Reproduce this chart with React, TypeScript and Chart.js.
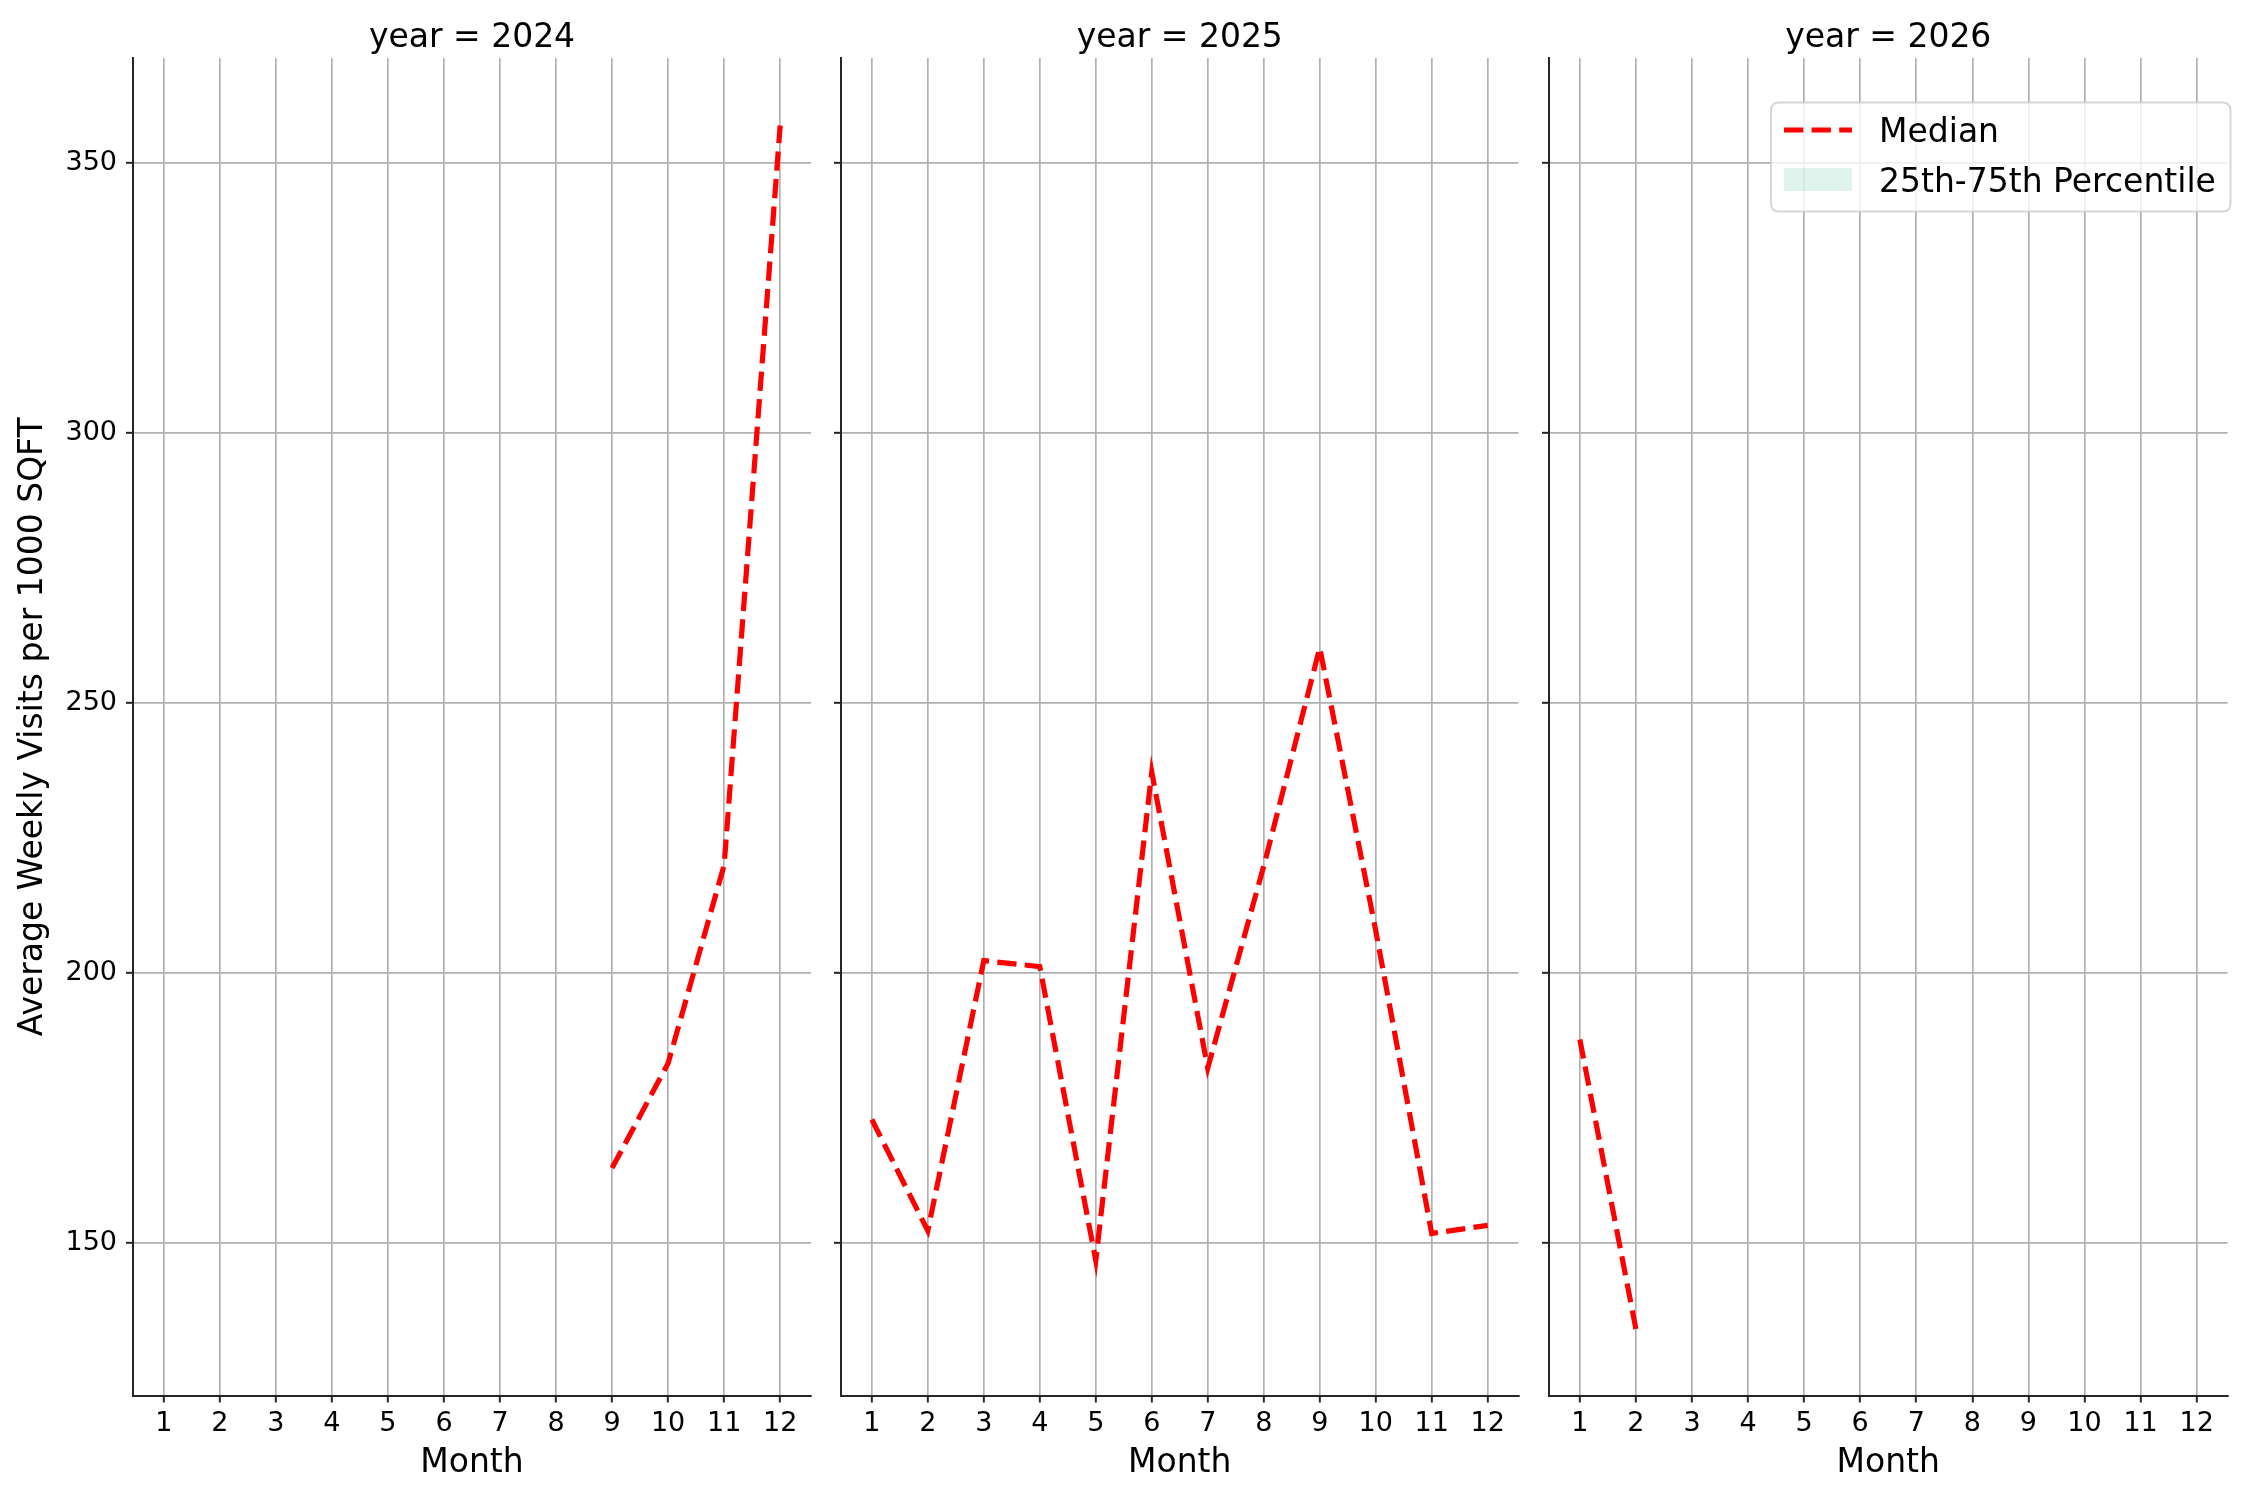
import React, { useEffect, useRef } from "react";
import { Chart, registerables } from "chart.js";

Chart.register(...registerables);
Chart.defaults.font.family = "'DejaVu Sans', sans-serif";
Chart.defaults.color = "#000000";

// ---------- data ----------
const YEARS = [2024, 2025, 2026];
const MONTH_TICKS = [1, 2, 3, 4, 5, 6, 7, 8, 9, 10, 11, 12];
const Y_TICKS = [150, 200, 250, 300, 350];

const MONTHS_2024 = [9, 10, 11, 12];
const MEDIAN_2024 = [163.9, 183.3, 220.0, 356.9];

const MONTHS_2025 = [1, 2, 3, 4, 5, 6, 7, 8, 9, 10, 11, 12];
const MEDIAN_2025 = [172.9, 152.3, 202.3, 201.2, 146.8, 237.2, 182.4, 219.8, 260.2, 207.9, 151.8, 153.3];

const MONTHS_2026 = [1, 2];
const MEDIAN_2026 = [187.7, 134.1];

const SERIES_LABELS = ["Median", "25th-75th Percentile"];
const X_TITLE = "Month";
const Y_TITLE = "Average Weekly Visits per 1000 SQFT";

const Y_MIN = 121.8;
const Y_MAX = 369.4;
const X_MIN = 0.45;
const X_MAX = 12.55;

// ---------- layout (pixels) ----------
const W = 2250;
const H = 1500;
const PLOT_TOP = 58;
const PLOT_BOTTOM = 1395.5;
const PANELS = [
  { year: YEARS[0], months: MONTHS_2024, values: MEDIAN_2024, left: 133, right: 811, labels: true, legend: false },
  { year: YEARS[1], months: MONTHS_2025, values: MEDIAN_2025, left: 841, right: 1518.5, labels: false, legend: false },
  { year: YEARS[2], months: MONTHS_2026, values: MEDIAN_2026, left: 1549, right: 2227.5, labels: false, legend: true },
];

const SPINE = "#262626";
const GRID = "#b0b0b0";
const FONT = "'DejaVu Sans', sans-serif";
const TICK_SIZE = 27;
const LABEL_SIZE = 33;

const panelTitlePlugin = {
  id: "panelTitle",
  afterDraw(chart: any, _args: any, opts: any) {
    const { ctx, chartArea } = chart;
    ctx.save();
    ctx.font = `${LABEL_SIZE}px ${FONT}`;
    ctx.fillStyle = "#000";
    ctx.textAlign = "center";
    ctx.textBaseline = "alphabetic";
    ctx.fillText(opts.text, (chartArea.left + chartArea.right) / 2, 47);
    ctx.restore();
  },
};

const faceLegendPlugin = {
  id: "faceLegend",
  afterDraw(chart: any, _args: any, opts: any) {
    if (!opts.display) return;
    const { ctx } = chart;
    const bx = 1771, by = 102.5, bw = 459.5, bh = 109, r = 8;
    ctx.save();
    ctx.beginPath();
    ctx.moveTo(bx + r, by);
    ctx.lineTo(bx + bw - r, by);
    ctx.quadraticCurveTo(bx + bw, by, bx + bw, by + r);
    ctx.lineTo(bx + bw, by + bh - r);
    ctx.quadraticCurveTo(bx + bw, by + bh, bx + bw - r, by + bh);
    ctx.lineTo(bx + r, by + bh);
    ctx.quadraticCurveTo(bx, by + bh, bx, by + bh - r);
    ctx.lineTo(bx, by + r);
    ctx.quadraticCurveTo(bx, by, bx + r, by);
    ctx.closePath();
    ctx.fillStyle = "rgba(255,255,255,0.8)";
    ctx.fill();
    ctx.strokeStyle = "rgba(204,204,204,0.8)";
    ctx.lineWidth = 2;
    ctx.stroke();

    const handleX0 = 1784, handleX1 = 1852, textX = 1879;
    const rows = [130, 179.5];
    chart.data.datasets.forEach((ds: any, i: number) => {
      const cy = rows[i];
      if (i === 0) {
        ctx.beginPath();
        ctx.setLineDash(ds.borderDash || []);
        ctx.lineWidth = ds.borderWidth;
        ctx.strokeStyle = ds.borderColor;
        ctx.lineCap = "butt";
        ctx.moveTo(handleX0, cy);
        ctx.lineTo(handleX1, cy);
        ctx.stroke();
        ctx.setLineDash([]);
      } else {
        ctx.fillStyle = ds.backgroundColor;
        ctx.fillRect(handleX0, cy - 11.5, handleX1 - handleX0, 23);
      }
      ctx.font = `${LABEL_SIZE}px ${FONT}`;
      ctx.fillStyle = "#000";
      ctx.textAlign = "left";
      ctx.textBaseline = "alphabetic";
      ctx.fillText(ds.label, textX, cy + 12);
    });
    ctx.restore();
  },
};

function makeConfig(p: any): any {
  const yWidth = p.labels ? 133 : 20;
  return {
    type: "line",
    data: {
      datasets: [
        {
          label: SERIES_LABELS[0],
          data: p.months.map((m: number, i: number) => ({ x: m, y: p.values[i] })),
          borderColor: "#ff0000",
          backgroundColor: "#ff0000",
          borderWidth: 5.2,
          borderDash: [19.3, 8.3],
          borderCapStyle: "butt",
          pointRadius: 0,
          fill: false,
          tension: 0,
        },
        {
          label: SERIES_LABELS[1],
          data: [],
          borderColor: "rgba(0,0,0,0)",
          backgroundColor: "rgba(102,194,165,0.2)",
          borderWidth: 0,
          pointRadius: 0,
          fill: false,
        },
      ],
    },
    options: {
      responsive: false,
      animation: false,
      devicePixelRatio: 1,
      events: [],
      layout: {
        padding: { left: p.left - yWidth, right: W - p.right, top: PLOT_TOP, bottom: 0 },
      },
      plugins: {
        legend: { display: false },
        title: { display: false },
        tooltip: { enabled: false },
        panelTitle: { text: `year = ${p.year}` },
        faceLegend: { display: p.legend },
      },
      scales: {
        x: {
          type: "linear",
          min: X_MIN,
          max: X_MAX,
          afterBuildTicks: (s: any) => {
            s.ticks = MONTH_TICKS.map((v) => ({ value: v }));
          },
          afterFit: (s: any) => {
            s.height = H - PLOT_BOTTOM;
          },
          ticks: {
            autoSkip: false,
            maxRotation: 0,
            padding: 5,
            font: { size: TICK_SIZE },
            color: "#000",
            callback: (v: any) => String(v),
          },
          grid: { color: GRID, lineWidth: 1.67, tickColor: SPINE, tickWidth: 2, tickLength: 7 },
          border: { color: SPINE, width: 2 },
          title: {
            display: true,
            text: X_TITLE,
            font: { size: LABEL_SIZE },
            color: "#000",
            padding: { top: 0, bottom: 17 },
          },
        },
        y: {
          type: "linear",
          min: Y_MIN,
          max: Y_MAX,
          afterBuildTicks: (s: any) => {
            s.ticks = Y_TICKS.map((v) => ({ value: v }));
          },
          afterFit: (s: any) => {
            s.width = yWidth;
          },
          ticks: {
            display: p.labels,
            padding: 9,
            font: { size: TICK_SIZE },
            color: "#000",
            callback: (v: any) => String(v),
          },
          grid: { color: GRID, lineWidth: 1.67, tickColor: SPINE, tickWidth: 2, tickLength: 7 },
          border: { color: SPINE, width: 2 },
          title: {
            display: p.labels,
            text: Y_TITLE,
            font: { size: LABEL_SIZE },
            color: "#000",
            padding: { top: 14, bottom: 0 },
          },
        },
      },
    },
    plugins: [panelTitlePlugin, faceLegendPlugin],
  };
}

function Panel({ p }: { p: any }) {
  const ref = useRef<HTMLCanvasElement | null>(null);
  useEffect(() => {
    if (!ref.current) return;
    const chart = new Chart(ref.current, makeConfig(p));
    return () => chart.destroy();
  }, [p]);
  return (
    <canvas
      ref={ref}
      width={W}
      height={H}
      style={{ position: "absolute", left: 0, top: 0, width: W, height: H }}
    />
  );
}

export default function App() {
  return (
    <div
      style={{
        position: "fixed",
        left: 0,
        top: 0,
        width: W,
        height: H,
        background: "#ffffff",
        overflow: "hidden",
      }}
    >
      {PANELS.map((p) => (
        <Panel key={p.year} p={p} />
      ))}
    </div>
  );
}
